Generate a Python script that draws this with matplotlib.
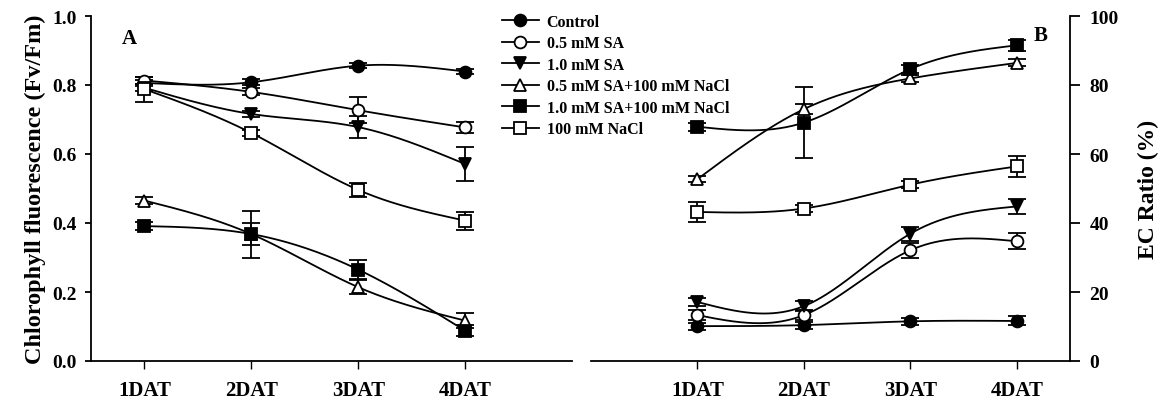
import numpy as np
import matplotlib
matplotlib.use('Agg')
import matplotlib.pyplot as plt

plt.rcParams['font.family'] = ['Liberation Serif', 'DejaVu Serif']
plt.rcParams['font.weight'] = 'bold'

days = ['1DAT', '2DAT', '3DAT', '4DAT']
treatments = ['Control', '0.5 mM SA', '1.0 mM SA', '0.5 mM SA+100 mM NaCl',
              '1.0 mM SA+100 mM NaCl', '100 mM NaCl']

# Panel A: chlorophyll fluorescence (Fv/Fm)
fvfm_control = [0.806, 0.808, 0.856, 0.839]
fvfm_sa05 = [0.813, 0.780, 0.727, 0.677]
fvfm_sa10 = [0.792, 0.716, 0.678, 0.571]
fvfm_sa05_nacl = [0.465, 0.368, 0.214, 0.117]
fvfm_sa10_nacl = [0.391, 0.368, 0.265, 0.088]
fvfm_nacl = [0.788, 0.661, 0.496, 0.407]

fvfm_err_control = [0.008, 0.008, 0.008, 0.008]
fvfm_err_sa05 = [0.010, 0.010, 0.037, 0.017]
fvfm_err_sa10 = [0.010, 0.010, 0.032, 0.050]
fvfm_err_sa05_nacl = [0.010, 0.033, 0.020, 0.022]
fvfm_err_sa10_nacl = [0.012, 0.068, 0.028, 0.015]
fvfm_err_nacl = [0.036, 0.010, 0.020, 0.026]

# Panel B: EC ratio (%)
ec_control = [10.1, 10.4, 11.5, 11.6]
ec_sa05 = [13.3, 13.3, 32.1, 34.7]
ec_sa10 = [17.1, 15.9, 36.9, 44.8]
ec_sa05_nacl = [52.7, 73.0, 81.9, 86.4]
ec_sa10_nacl = [67.9, 69.1, 84.6, 91.5]
ec_nacl = [43.2, 44.2, 51.1, 56.4]

ec_err_control = [1.0, 1.0, 1.0, 1.3]
ec_err_sa05 = [1.5, 1.5, 2.2, 2.3]
ec_err_sa10 = [1.2, 1.5, 2.0, 2.2]
ec_err_sa05_nacl = [0.8, 1.5, 1.0, 1.0]
ec_err_sa10_nacl = [1.2, 10.3, 1.2, 1.5]
ec_err_nacl = [3.0, 1.0, 1.0, 3.1]

styles = [('o', 'black'), ('o', 'white'), ('v', 'black'),
          ('^', 'white'), ('s', 'black'), ('s', 'white')]


def spline(x, y, n=200):
    """Natural cubic spline through the points, for a smooth line."""
    x = np.asarray(x, float)
    y = np.asarray(y, float)
    k = len(x)
    h = np.diff(x)
    A = np.zeros((k, k))
    b = np.zeros(k)
    A[0, 0] = A[-1, -1] = 1
    for i in range(1, k - 1):
        A[i, i - 1] = h[i - 1]
        A[i, i] = 2 * (h[i - 1] + h[i])
        A[i, i + 1] = h[i]
        b[i] = 6 * ((y[i + 1] - y[i]) / h[i] - (y[i] - y[i - 1]) / h[i - 1])
    m = np.linalg.solve(A, b)
    xs = np.linspace(x[0], x[-1], n)
    idx = np.clip(np.searchsorted(x, xs) - 1, 0, k - 2)
    x0, x1 = x[idx], x[idx + 1]
    hh = x1 - x0
    t0, t1 = x1 - xs, xs - x0
    ys = (m[idx] * t0 ** 3 / (6 * hh) + m[idx + 1] * t1 ** 3 / (6 * hh)
          + (y[idx] / hh - m[idx] * hh / 6) * t0
          + (y[idx + 1] / hh - m[idx + 1] * hh / 6) * t1)
    return xs, ys


def draw(ax, series, errors):
    x = np.arange(1, len(days) + 1)
    handles = []
    for vals, err, (mk, fc), lab in zip(series, errors, styles, treatments):
        xs, ys = spline(x, vals)
        ax.plot(xs, ys, color='black', lw=1.3, zorder=2)
        ax.errorbar(x, vals, yerr=err, fmt='none', ecolor='black',
                    elinewidth=1.3, capsize=6.5, capthick=1.3, zorder=3)
        ax.plot(x, vals, ls='none', marker=mk, ms=8.5, mfc=fc, mec='black',
                mew=1.3, zorder=4)
        h, = ax.plot([], [], color='black', lw=1.3, marker=mk, ms=8.5,
                     mfc=fc, mec='black', mew=1.3, label=lab)
        handles.append(h)
    ax.set_xticks(x)
    ax.set_xticklabels(days)
    return handles


fig = plt.figure(figsize=(11.68, 4.02), dpi=100)
axA = fig.add_axes([91 / 1168, 40 / 402, 481 / 1168, 345 / 402])
axB = fig.add_axes([591 / 1168, 40 / 402, 479 / 1168, 345 / 402])

handles = draw(axA, [fvfm_control, fvfm_sa05, fvfm_sa10, fvfm_sa05_nacl,
                     fvfm_sa10_nacl, fvfm_nacl],
               [fvfm_err_control, fvfm_err_sa05, fvfm_err_sa10,
                fvfm_err_sa05_nacl, fvfm_err_sa10_nacl, fvfm_err_nacl])
draw(axB, [ec_control, ec_sa05, ec_sa10, ec_sa05_nacl, ec_sa10_nacl, ec_nacl],
     [ec_err_control, ec_err_sa05, ec_err_sa10, ec_err_sa05_nacl,
      ec_err_sa10_nacl, ec_err_nacl])

# Panel A axes
axA.set_xlim(0.5, 5.0)
axA.set_ylim(0, 1.0)
axA.set_yticks(np.arange(0, 1.01, 0.2))
axA.set_yticklabels([f'{v:.1f}' for v in np.arange(0, 1.01, 0.2)])
for s in ['top', 'right']:
    axA.spines[s].set_visible(False)
axA.spines['left'].set_linewidth(1.3)
axA.spines['bottom'].set_linewidth(1.3)
axA.tick_params(axis='y', direction='out', length=4, width=1.3, pad=6, labelsize=14)
axA.tick_params(axis='x', direction='out', length=6, width=1.0, pad=8, labelsize=15)
axA.set_ylabel('Chlorophyll fluorescence (Fv/Fm)', fontsize=17.5,
               fontweight='bold', labelpad=5)
axA.text(0.065, 0.965, 'A', transform=axA.transAxes, fontsize=15,
         fontweight='bold', va='top')

# Panel B axes
axB.set_xlim(0, 4.5)
axB.set_ylim(0, 100)
axB.set_yticks(np.arange(0, 101, 20))
for s in ['top', 'left']:
    axB.spines[s].set_visible(False)
axB.spines['right'].set_linewidth(1.3)
axB.spines['bottom'].set_linewidth(1.3)
axB.yaxis.tick_right()
axB.yaxis.set_label_position('right')
axB.tick_params(axis='y', direction='out', length=7, width=1.3, pad=7, labelsize=14)
axB.tick_params(axis='x', direction='out', length=6, width=1.0, pad=8, labelsize=15)
axB.set_ylabel('EC Ratio (%)', fontsize=17, fontweight='bold', labelpad=14)
axB.text(0.925, 0.975, 'B', transform=axB.transAxes, fontsize=15,
         fontweight='bold', va='top')

fig.legend(handles=handles, loc='upper left',
           bbox_to_anchor=(502 / 1168, 1 - 15 / 402), frameon=False,
           fontsize=11.5, handlelength=2.3, handletextpad=0.5,
           labelspacing=0.34, borderpad=0, borderaxespad=0)

fig.savefig('out.png', dpi=100)
